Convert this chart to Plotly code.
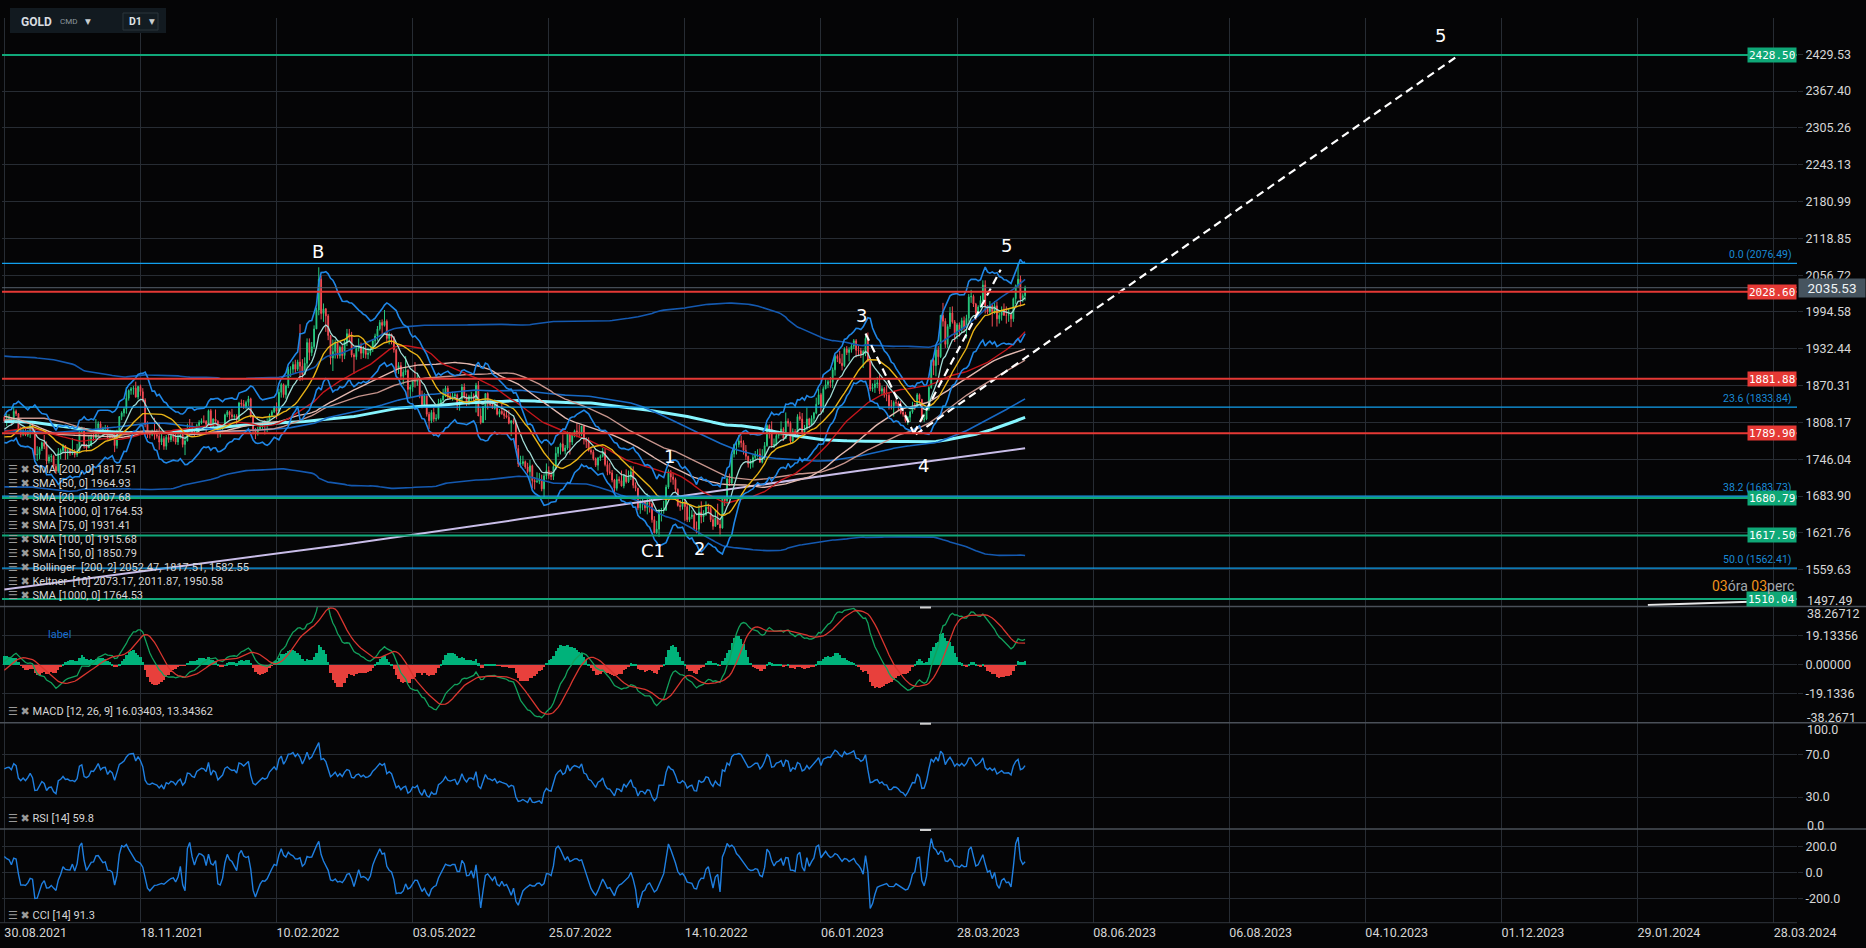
import numpy as np
import pandas as pd
import plotly.graph_objects as go

# ---------------- DATA ----------------
# daily closes before the visible window (warm-up for the long indicators)
hist_close = [
1888,1880,1871,1866,1871, 1837,1805,1811,1811,1788, 1777,1815,1831,1841,1839,
1863,1871,1838,1836,1839, 1828,1854,1862,1886,1881, 1872,1862,1871,1876,
1876,1878,1893,1898, 1943,1950,1918,1913,1849, 1844,1856,1846,1851,1828,
1840,1840,1871,1870,1855, 1856,1850,1844,1843,1863, 1861,1836,1835,1793,1814,
1831,1838,1843,1826,1824, 1819,1799,1776,1775,1784, 1808,1805,1797,1770,1734,
1723,1738,1712,1698,1700, 1683,1716,1727,1722,1719, 1731,1731,1745,1735,1745,
1738,1728,1734,1726,1732, 1712,1685,1708,1728, 1729,1744,1737,1755,1744,
1732,1746,1736,1764,1777, 1770,1779,1793,1783,1777, 1780,1777,1773,1768,1768,
1792,1779,1786,1815,1831, 1836,1836,1815,1826,1843, 1867,1869,1870,1876,1881,
1882,1898,1896,1896,1903, 1906,1903,1908,1871,1891, 1898,1893,1888,1898,1877,
1866,1859,1811,1774,1764, 1782,1778,1779,1776,1782, 1780,1761,1770,1776,1787,
1792,1797,1803,1803,1808, 1806,1808,1826,1829,1812, 1812,1810,1804,1806,1802,
1797,1799,1807,1829,1814, 1812,1810,1812,1805,1763, 1730,1730,1752,1753,1780,
1787,1787,1787,1781,1781, 1805,1803,1790,1792,1817]

# visible daily candles 30.08.2021 .. 09.05.2023
open_ = [
1817,1810,1814,1815,1810, 1827,1823,1795,1788,1794, 1787,1794,1804,1794,1753,
1754,1764,1774,1768,1743, 1750,1751,1734,1726,1757, 1761,1769,1760,1761,1756,
1757,1754,1760,1793,1797, 1768,1765,1769,1783,1782, 1792,1806,1792,1798,1799,
1783,1793,1788,1769,1792, 1818,1824,1831,1849,1862, 1865,1866,1851,1869,1860,
1846,1805,1790,1788,1792, 1788,1785,1775,1781,1768, 1783,1779,1785,1783,1775,
1783,1787,1771,1777,1799, 1798,1791,1789,1803, 1808,1811,1810,1805,
1828,1801,1814,1810,1790, 1797,1802,1821,1826,1821, 1818,1819,1813,1841,1839,
1835,1842,1848,1819,1796, 1791,1797,1801,1807,1804, 1807,1820,1826,1833,1827,
1859,1872,1855,1870,1898, 1898,1906,1898,1910,1903, 1889,1908,1943,1926,1936,
1966,1998,2050,1992,2000, 1988,1955,1917,1928,1942, 1921,1935,1921,1944,1958,
1954,1922,1919,1933,1937, 1925,1932,1923,1925,1931, 1946,1954,1966,1977,
1972,1979,1950,1957,1951, 1931,1898,1904,1886,1893, 1896,1864,1868,1881,1877,
1883,1854,1838,1853,1822, 1811,1825,1814,1815,1841, 1846,1853,1866,1853,1850,
1853,1855,1837,1848,1868, 1851,1841,1852,1853,1848, 1871,1819,1808,1835,1857,
1840,1838,1832,1838,1822, 1827,1823,1820,1817,1807, 1811,1808,1764,1738,1739,
1742,1733,1725,1735,1710, 1708,1709,1711,1696,1718, 1727,1719,1717,1734,1756,
1766,1772,1760,1765,1791, 1775,1788,1794,1792,1789, 1802,1779,1776,1761,1758,
1747,1736,1748,1751,1758, 1737,1725,1723,1711,1697, 1712,1710,1701,1718,1708,
1716,1725,1702,1697,1664, 1675,1675,1664,1673,1671, 1644,1622,1628,1660,1660,
1660,1699,1725,1716,1712, 1695,1668,1666,1673,1666, 1644,1649,1652,1629,1628,
1657,1649,1652,1665,1663, 1644,1633,1647,1636,1630, 1681,1676,1713,1706,1755,
1771,1771,1777,1774,1761, 1751,1738,1740,1749,1755, 1755,1741,1750,1769,1803,
1797,1769,1771,1786,1789, 1797,1781,1810,1807,1777, 1793,1788,1818,1814,1792,
1797,1814,1804,1815, 1824,1839,1855,1833, 1865,1872,1877,1876,1897,
1920,1916,1908,1904,1932, 1926,1931,1937,1946,1930, 1929,1923,1928,1950,1912,
1865,1867,1873,1875,1861, 1865,1854,1854,1836,1836, 1842,1841,1835,1825,1822,
1811,1817,1826,1836,1835, 1855,1847,1813,1814,1831, 1867,1913,1904,1931,1919,
1989,1979,1940,1970,1993, 1978,1956,1973,1964,1980, 1969,1984,2020,2021,
2008,1993,2003,2014,2040, 2004,1995,2005,1995,2005, 1983,1989,1998,1989,1989,
1990,1983,2017,2039,2050, 2017,2022]

high = [
1820,1823,1822,1816,1834, 1830,1824,1801,1800,1797, 1795,1808,1809,1796,1768,
1767,1776,1787,1776,1754, 1755,1753,1738,1765,1764, 1772,1770,1765,1764,1782,
1763,1772,1796,1801,1800, 1772,1785,1788,1789,1814, 1810,1810,1801,1804,1803,
1796,1794,1792,1796,1819, 1827,1834,1868,1864,1868, 1870,1877,1870,1872,1866,
1849,1810,1793,1796,1816, 1797,1808,1790,1785,1787, 1788,1792,1793,1789,1791,
1792,1791,1785,1806,1814, 1808,1796,1806,1812, 1815,1820,1812,1830,
1831,1815,1830,1812,1801, 1805,1823,1829,1828,1831, 1822,1822,1843,1847,1846,
1845,1853,1850,1820,1799, 1801,1807,1810,1812,1815, 1823,1829,1836,1842,1865,
1875,1874,1872,1902,1903, 1911,1914,1914,1974,1915, 1918,1950,1950,1944,1972,
2002,2070,2056,2009,2001, 1991,1956,1948,1948,1944, 1938,1940,1948,1966,1966,
1961,1925,1938,1950,1943, 1937,1945,1934,1935,1948, 1958,1971,1981,1982,
1998,1982,1960,1958,1954, 1932,1910,1910,1898,1920, 1898,1872,1882,1910,1892,
1885,1862,1858,1854,1826, 1829,1833,1822,1848,1849, 1865,1870,1870,1858,1860,
1859,1857,1849,1873,1874, 1857,1855,1860,1857,1875, 1878,1832,1836,1857,1859,
1846,1843,1847,1845,1831, 1840,1829,1829,1829,1812, 1815,1812,1770,1752,1752,
1744,1740,1745,1737,1716, 1724,1723,1720,1721,1739, 1734,1726,1740,1767,1767,
1774,1788,1770,1793,1792, 1790,1796,1807,1804,1802, 1802,1783,1783,1766,1762,
1749,1750,1754,1765,1764, 1744,1740,1728,1713,1721, 1717,1727,1721,1729,1727,
1735,1734,1707,1698,1678, 1679,1677,1688,1684,1673, 1650,1642,1662,1664,1676,
1703,1729,1728,1723,1715, 1697,1677,1680,1683,1671, 1668,1660,1656,1641,1669,
1675,1660,1675,1671,1666, 1652,1660,1671,1643,1682, 1683,1717,1722,1757,1772,
1775,1787,1786,1778,1770, 1752,1746,1754,1760,1763, 1764,1763,1775,1805,1805,
1810,1781,1790,1794,1810, 1800,1825,1815,1810,1798, 1797,1822,1826,1824,1804,
1833,1816,1820,1826, 1850,1865,1858,1869, 1881,1880,1885,1901,1922,
1923,1929,1924,1935,1937, 1935,1942,1949,1949,1938, 1934,1931,1955,1960,1918,
1874,1880,1885,1890,1870, 1868,1871,1858,1846,1845, 1847,1844,1845,1830,1826,
1819,1828,1843,1841,1858, 1857,1848,1823,1834,1870, 1914,1916,1937,1937,1989,
2010,1984,1974,2003,2004, 1981,1976,1977,1985,1987, 1990,2025,2032,2024,
2010,2006,2022,2048,2048, 2006,2013,2008,2013,2012, 1993,2004,2009,2004,2000,
1992,2019,2041,2076.49,2056, 2026,2039]

low = [
1808,1802,1808,1804,1807, 1819,1792,1783,1785,1785, 1784,1782,1790,1745,1743,
1746,1760,1763,1737,1739, 1741,1730,1721,1723,1746, 1757,1745,1746,1752,1753,
1749,1750,1758,1790,1764, 1759,1765,1768,1777,1779, 1785,1790,1785,1791,1779,
1780,1782,1758,1764,1782, 1812,1818,1823,1845,1855, 1855,1850,1847,1853,1843,
1800,1782,1781,1785,1779, 1781,1762,1770,1762,1762, 1774,1775,1776,1771,1770,
1781,1766,1753,1776,1794, 1788,1785,1787,1800, 1805,1807,1790,1803,
1798,1799,1808,1782,1783, 1791,1800,1817,1813,1813, 1813,1805,1811,1833,1831,
1831,1836,1816,1788,1780, 1786,1795,1797,1788,1792, 1805,1817,1824,1814,1820,
1850,1850,1848,1866,1885, 1891,1890,1895,1878,1879, 1889,1900,1913,1920,1932,
1966,1989,1982,1978,1961, 1947,1906,1895,1916,1916, 1916,1910,1915,1937,1944,
1918,1890,1914,1928,1915, 1917,1916,1915,1921,1927, 1936,1946,1963,1955,
1970,1944,1940,1940,1926, 1891,1890,1880,1872,1888, 1850,1851,1860,1867,1870,
1849,1832,1836,1818,1797, 1807,1809,1810,1813,1835, 1839,1851,1846,1847,1845,
1848,1829,1828,1843,1848, 1836,1837,1845,1841,1825, 1820,1805,1807,1812,1830,
1835,1831,1830,1820,1817, 1821,1814,1815,1805,1785, 1805,1763,1733,1732,1735,
1730,1722,1707,1697,1695, 1706,1704,1692,1680,1712, 1713,1711,1711,1728,1750,
1754,1759,1754,1762,1754, 1770,1783,1783,1782,1785, 1771,1765,1759,1754,1744,
1733,1727,1743,1749,1734, 1719,1720,1707,1688,1693, 1705,1700,1697,1705,1706,
1711,1697,1692,1660,1654, 1660,1658,1653,1656,1639, 1621,1620,1615,1641,1654,
1659,1696,1707,1703,1690, 1666,1659,1661,1642,1640, 1640,1645,1627,1621,1617,
1638,1640,1651,1655,1640, 1627,1632,1636,1616,1629, 1667,1670,1701,1703,1749,
1754,1766,1766,1754,1745, 1732,1730,1732,1746,1749, 1740,1739,1745,1767,1781,
1765,1765,1769,1781,1786, 1777,1780,1801,1773,1775, 1783,1784,1811,1786,1789,
1796,1798,1803,1808, 1822,1838,1825,1825, 1864,1866,1867,1866,1887,
1910,1907,1896,1902,1922, 1911,1926,1932,1918,1920, 1917,1900,1920,1910,1861,
1860,1858,1866,1856,1853, 1850,1844,1830,1830,1818, 1836,1828,1822,1818,1808,
1804,1809,1823,1829,1834, 1842,1810,1809,1812,1828, 1865,1888,1886,1905,1917,
1970,1934,1934,1966,1975, 1944,1949,1953,1961,1960, 1950,1978,2010,2003,
1981,1990,2001,2012,1992, 1991,1990,1970,1991,1970, 1975,1980,1988,1975,1978,
1969,1978,2008,2036,2004, 2011,2014]

close = [
1810,1814,1815,1810,1827, 1823,1795,1788,1794,1787, 1794,1804,1794,1753,1754,
1764,1774,1768,1743,1750, 1751,1734,1726,1757,1761, 1769,1760,1761,1756,1757,
1754,1760,1793,1797,1768, 1765,1769,1783,1782,1792, 1806,1792,1798,1799,1783,
1793,1788,1769,1792,1818, 1824,1831,1849,1862,1865, 1866,1851,1869,1860,1846,
1805,1790,1788,1792,1788, 1785,1775,1781,1768,1783, 1779,1785,1783,1775,1783,
1787,1771,1777,1799,1798, 1791,1789,1803,1808, 1811,1810,1805,1828,
1801,1814,1810,1790,1797, 1802,1821,1826,1821,1818, 1819,1813,1841,1839,1835,
1842,1848,1819,1796,1791, 1797,1801,1807,1804,1807, 1820,1826,1833,1827,1859,
1872,1855,1870,1898,1898, 1906,1898,1910,1903,1889, 1908,1943,1926,1936,1966,
1998,2050,1992,2000,1988, 1955,1917,1928,1942,1921, 1935,1921,1944,1958,1954,
1922,1919,1933,1937,1925, 1932,1923,1925,1931,1946, 1954,1966,1977,1972,
1979,1950,1957,1951,1931, 1898,1904,1886,1893,1896, 1864,1868,1881,1877,1883,
1854,1838,1853,1822,1811, 1825,1814,1815,1841,1846, 1853,1866,1853,1850,1853,
1855,1837,1848,1868,1851, 1841,1852,1853,1848,1871, 1819,1808,1835,1857,1840,
1838,1832,1838,1822,1827, 1823,1820,1817,1807,1811, 1808,1764,1738,1739,1742,
1733,1725,1735,1710,1708, 1709,1711,1696,1718,1727, 1719,1717,1734,1756,1766,
1772,1760,1765,1791,1775, 1788,1794,1792,1789,1802, 1779,1776,1761,1758,1747,
1736,1748,1751,1758,1737, 1725,1723,1711,1697,1712, 1710,1701,1718,1708,1716,
1725,1702,1697,1664,1675, 1675,1664,1673,1671,1644, 1622,1628,1660,1660,1660,
1699,1725,1716,1712,1695, 1668,1666,1673,1666,1644, 1649,1652,1629,1628,1657,
1649,1652,1665,1663,1644, 1633,1647,1636,1630,1681, 1676,1713,1706,1755,1771,
1771,1777,1774,1761,1751, 1738,1740,1749,1755,1755, 1741,1750,1769,1803,1797,
1769,1771,1786,1789,1797, 1781,1810,1807,1777,1793, 1788,1818,1814,1792,1797,
1814,1804,1815,1824, 1839,1855,1833,1865, 1872,1877,1876,1897,1920,
1916,1908,1904,1932,1926, 1931,1937,1946,1930,1929, 1923,1928,1950,1912,1865,
1867,1873,1875,1861,1865, 1854,1854,1836,1836,1842, 1841,1835,1825,1822,1811,
1817,1826,1836,1835,1855, 1847,1813,1814,1831,1867, 1913,1904,1931,1919,1989,
1979,1940,1970,1993,1978, 1956,1973,1964,1980,1969, 1984,2020,2021,2008,
1993,2003,2014,2040,2004, 1995,2005,1995,2005,1983, 1989,1998,1989,1989,1990,
1983,2017,2039,2050,2017, 2022,2035.53]

# SMA 1000 (bar index, value)
sma1000_idx = [0, 72, 143, 220, 297, 365, 435]
sma1000_val = [1526, 1564, 1601, 1645, 1688, 1727, 1764.5]

# axis tick labels
date_labels = ["30.08.2021", "18.11.2021", "10.02.2022", "03.05.2022", "25.07.2022",
               "14.10.2022", "06.01.2023", "28.03.2023", "08.06.2023", "06.08.2023",
               "04.10.2023", "01.12.2023", "29.01.2024", "28.03.2024"]
bars_per_label = 58
price_labels = ["1559.63", "1621.76", "1683.90", "1746.04", "1808.17", "1870.31", "1932.44",
                "1994.58", "2056.72", "2118.85", "2180.99", "2243.13", "2305.26", "2367.40", "2429.53"]
price_floor_label = "1497.49"
price_top = 2490.8
macd_labels = ["-19.1336", "0.00000", "19.13356"]
macd_edge_labels = ["38.26712", "-38.2671"]
macd_limit = 38.26712
rsi_labels = ["30.0", "70.0"]
rsi_edge_labels = ["100.0", "0.0"]
cci_labels = ["-200.0", "0.0", "200.0"]
cci_range = [-385, 336]

# horizontal levels
green_levels = [2428.50, 1680.79, 1617.50, 1510.04]
red_levels = [2028.60, 1881.88, 1789.90]
fib_names = ["0.0", "23.6", "38.2", "50.0"]
fib_levels = [2076.49, 1833.84, 1683.73, 1562.41]
last_price = 2035.53

# wave markup (bar index, price)
wave_text = ["B", "5", "3", "4", "1", "C1", "2", "5"]
wave_x = [133.5, 427.2, 365.3, 391.9, 283.6, 276.5, 296.4, 612.2]
wave_y = [2096.4, 2107.6, 1989.5, 1736.3, 1750.3, 1592.8, 1595.7, 2460.9]
dash1_x, dash1_y = [367, 387.6], [1958.4, 1789.7]
dash2_x, dash2_y = [387.6, 424.6], [1789.7, 2066]
trend_x, trend_y = [388.4, 620], [1788, 2428.5]
sliver_x, sliver_y = [700.4, 743.9], [1500, 1505.5]

legend_main = ["SMA [200, 0] 1817.51", "SMA [50, 0] 1964.93", "SMA [20, 0] 2007.68",
               "SMA [1000, 0] 1764.53", "SMA [75, 0] 1931.41", "SMA [100, 0] 1915.68",
               "SMA [150, 0] 1850.79", "Bollinger  [200, 2] 2052.47, 1817.51, 1582.55",
               "Keltner  [10] 2073.17, 2011.87, 1950.58", "SMA [1000, 0] 1764.53"]
macd_title = "MACD [12, 26, 9] 16.03403, 13.34362"
rsi_title = "RSI [14] 59.8"
cci_title = "CCI [14] 91.3"

# ---------------- INDICATORS ----------------
n = min(len(open_), len(high), len(low), len(close))
o_v = pd.Series(open_[:n], dtype=float)
h_v = pd.Series(high[:n], dtype=float)
l_v = pd.Series(low[:n], dtype=float)
c_v = pd.Series(close[:n], dtype=float)
hc = pd.Series(hist_close, dtype=float)
nh = len(hc)
c_all = pd.concat([hc, c_v], ignore_index=True)
h_all = pd.concat([hc, h_v], ignore_index=True)
l_all = pd.concat([hc, l_v], ignore_index=True)

def sma(p):
    return c_all.rolling(p, min_periods=1).mean().iloc[nh:].to_numpy()

sma20, sma50, sma75, sma100, sma150, sma200 = (sma(p) for p in (20, 50, 75, 100, 150, 200))
std200 = c_all.rolling(200, min_periods=1).std(ddof=0).iloc[nh:].to_numpy()
bb_up, bb_lo = sma200 + 2 * std200, sma200 - 2 * std200
ema10 = c_all.ewm(span=10, adjust=False).mean()
prev_c = c_all.shift(1)
tr = pd.concat([h_all - l_all, (h_all - prev_c).abs(), (l_all - prev_c).abs()], axis=1).max(axis=1)
atr10 = tr.ewm(span=10, adjust=False).mean()
kc_mid = ema10.iloc[nh:].to_numpy()
kc_up = (ema10 + 2 * atr10).iloc[nh:].to_numpy()
kc_lo = (ema10 - 2 * atr10).iloc[nh:].to_numpy()
macd = c_all.ewm(span=12, adjust=False).mean() - c_all.ewm(span=26, adjust=False).mean()
signal = macd.rolling(9, min_periods=1).mean()
mhist = (macd - signal).iloc[nh:].to_numpy()
macd_v = macd.iloc[nh:].to_numpy()
signal_v = signal.iloc[nh:].to_numpy()
delta = c_all.diff()
gain = delta.clip(lower=0).ewm(alpha=1 / 14, adjust=False).mean()
loss = (-delta.clip(upper=0)).ewm(alpha=1 / 14, adjust=False).mean()
rsi = (100 - 100 / (1 + gain / loss)).iloc[nh:].to_numpy()
tp = (h_all + l_all + c_all) / 3
tp_ma = tp.rolling(14).mean()
md = tp.rolling(14).apply(lambda a: np.mean(np.abs(a - a.mean())), raw=True)
cci = ((tp - tp_ma) / (0.015 * md)).iloc[nh:].to_numpy()
xi = np.arange(n)

# ---------------- GEOMETRY / STYLE ----------------
W, H = 1866, 948
ML, MR, MT, MB = 2, 69, 18, 25
PW, PH = W - ML - MR, H - MT - MB

def fx(p):
    return (p - ML) / PW

def fy(p):
    return 1 - (p - MT) / PH

B_MAIN, B_MACD, B_RSI = fy(606.5), fy(722.7), fy(829)
BG = "#050506"
GRID = "#272c33"
TXT = "#d6d6d6"
FONT = "Roboto, DejaVu Sans, sans-serif"
MONO = "DejaVu Sans Mono, monospace"
GREEN_LV, RED_LV, FIB = "#10a779", "#e53935", "#12a0ee"

fig = go.Figure()

fig.add_trace(go.Candlestick(
    x=xi, open=o_v, high=h_v, low=l_v, close=c_v,
    increasing=dict(line=dict(color="#27c97f", width=1), fillcolor="#27c97f"),
    decreasing=dict(line=dict(color="#f24b53", width=1), fillcolor="#f24b53"),
    whiskerwidth=0, hoverinfo="skip", xaxis="x", yaxis="y"))

def line(x, y, color, width, dash=None, ax=("x", "y")):
    fig.add_trace(go.Scatter(x=x, y=y, mode="lines", hoverinfo="skip",
                             line=dict(color=color, width=width, dash=dash),
                             xaxis=ax[0], yaxis=ax[1]))

line(xi, bb_up, "#1459b0", 1.6)
line(xi, bb_lo, "#1459b0", 1.6)
line(sma1000_idx, sma1000_val, "#c9bde8", 2)
line(xi, sma200, "#86f5ff", 3)
line(xi, sma150, "#1769c4", 1.6)
line(xi, sma100, "#c7958d", 1.4)
line(xi, sma75, "#e2b9b0", 1.4)
line(xi, sma50, "#c4161c", 1.4)
line(xi, kc_up, "#1f86e6", 1.6)
line(xi, kc_lo, "#1f86e6", 1.6)
line(xi, kc_mid, "#a3dcd6", 1.3)
line(xi, sma20, "#e9b417", 1.4)
line(dash1_x, dash1_y, "#ffffff", 2.2, "8px,5px")
line(dash2_x, dash2_y, "#ffffff", 2.2, "8px,5px")
line(trend_x, trend_y, "#ffffff", 2.2, "8px,5px")
line(sliver_x, sliver_y, "#e8e8e8", 2)

fig.add_trace(go.Bar(x=xi, y=mhist, width=1.0, hoverinfo="skip",
                     marker=dict(color=["#00b27a" if v >= 0 else "#e8403c" for v in mhist],
                                 line=dict(width=0)),
                     xaxis="x2", yaxis="y2"))
line(xi, macd_v, "#12a05c", 1.3, ax=("x2", "y2"))
line(xi, signal_v, "#d8362f", 1.3, ax=("x2", "y2"))
line(xi, rsi, "#1f7fe0", 1.4, ax=("x3", "y3"))
line(xi, cci, "#1f7fe0", 1.4, ax=("x4", "y4"))

# ---------------- AXES ----------------
tick_x = [i * bars_per_label for i in range(len(date_labels))]
xcommon = dict(range=[-1, (PW / 136.1) * bars_per_label - 1], tickvals=tick_x, ticktext=date_labels,
               showgrid=True, gridcolor=GRID, gridwidth=1, zeroline=False, showline=False,
               ticks="", fixedrange=True)
ycommon = dict(side="right", showgrid=True, gridcolor=GRID, gridwidth=1, zeroline=False,
               showline=False, ticks="outside", ticklen=5, tickcolor=GRID, fixedrange=True,
               tickfont=dict(family=FONT, size=12.5, color=TXT))

layout = dict(
    width=W, height=H, paper_bgcolor=BG, plot_bgcolor=BG, showlegend=False,
    margin=dict(l=ML, r=MR, t=MT, b=MB), boxgap=0.5, bargap=0,
    xaxis=dict(xcommon, anchor="y", showticklabels=False, rangeslider=dict(visible=False)),
    xaxis2=dict(xcommon, anchor="y2", matches="x", showticklabels=False),
    xaxis3=dict(xcommon, anchor="y3", matches="x", showticklabels=False),
    xaxis4=dict(xcommon, anchor="y4", matches="x", showticklabels=True,
                ticklabelposition="outside right",
                tickfont=dict(family=FONT, size=12.5, color=TXT)),
    yaxis=dict(ycommon, domain=[B_MAIN, 1], anchor="x", range=[float(price_floor_label), price_top],
               tickvals=[float(s) for s in price_labels], ticktext=price_labels),
    yaxis2=dict(ycommon, domain=[B_MACD, B_MAIN], anchor="x2", range=[-macd_limit, macd_limit],
                tickvals=[float(s) for s in macd_labels], ticktext=macd_labels),
    yaxis3=dict(ycommon, domain=[B_RSI, B_MACD], anchor="x3", range=[0, 100],
                tickvals=[float(s) for s in rsi_labels], ticktext=rsi_labels),
    yaxis4=dict(ycommon, domain=[0, B_RSI], anchor="x4", range=cci_range,
                tickvals=[float(s) for s in cci_labels], ticktext=cci_labels),
)
fig.update_layout(**layout)

shapes = []
ann = []

for v in green_levels:
    shapes.append(dict(type="line", xref="paper", yref="y", x0=0, x1=1, y0=v, y1=v,
                       line=dict(color=GREEN_LV, width=2)))
for v in red_levels:
    shapes.append(dict(type="line", xref="paper", yref="y", x0=0, x1=1, y0=v, y1=v,
                       line=dict(color=RED_LV, width=2)))
for v in fib_levels:
    shapes.append(dict(type="line", xref="paper", yref="y", x0=0, x1=1, y0=v, y1=v,
                       line=dict(color=FIB, width=1.2)))
shapes.append(dict(type="line", xref="paper", yref="y", x0=0, x1=1, y0=last_price, y1=last_price,
                   line=dict(color="#56616c", width=1)))

for v, col in [(g, "#0fa877") for g in green_levels] + [(r, "#e53935") for r in red_levels]:
    ann.append(dict(xref="paper", yref="y", x=1, y=v, xanchor="right", yanchor="middle",
                    text=f"{v:.2f}", showarrow=False, bgcolor=col, borderpad=1, height=12,
                    font=dict(family=MONO, size=11, color="#ffffff")))
for nm, v in zip(fib_names, fib_levels):
    ann.append(dict(xref="paper", yref="y", x=1, y=v, xanchor="right", yanchor="middle",
                    xshift=-3, yshift=9, text=f"{nm} ({v:.2f})", showarrow=False,
                    font=dict(family=FONT, size=10.5, color="#1a8ad6")))
ann.append(dict(xref="paper", yref="y", x=1, y=last_price, xanchor="left", yanchor="middle",
                xshift=1, text=f"{last_price:.2f}", showarrow=False, bgcolor="#46545f",
                borderpad=1, width=64, height=16, align="center",
                font=dict(family=FONT, size=13.5, color="#eef2f4")))

edge = [("y", float(price_floor_label), price_floor_label, 6),
        ("y2", macd_limit, macd_edge_labels[0], -6.5),
        ("y2", -macd_limit, macd_edge_labels[1], 5),
        ("y3", 100, rsi_edge_labels[0], -7),
        ("y3", 0, rsi_edge_labels[1], 4)]
for yr, v, t, s in edge:
    ann.append(dict(xref="paper", yref=yr, x=1, y=v, xanchor="left", yanchor="middle",
                    xshift=8, yshift=s, text=t, showarrow=False,
                    font=dict(family=FONT, size=12.5, color=TXT)))

for t, x, y in zip(wave_text, wave_x, wave_y):
    ann.append(dict(xref="x", yref="y", x=x, y=y, text=t, showarrow=False,
                    font=dict(family="DejaVu Sans", size=18, color="#ffffff")))

ICON = "<span style='color:#9a9a9a'>☰ ✖</span> "
for k, t in enumerate(legend_main):
    ann.append(dict(xref="paper", yref="paper", x=fx(6), y=fy(469.3 + 14 * k), xanchor="left",
                    yanchor="middle", text=ICON + t, showarrow=False,
                    font=dict(family=FONT, size=11, color="#d6d6d6")))
for t, yy in [(macd_title, 711.3), (rsi_title, 818.3), (cci_title, 915.3)]:
    ann.append(dict(xref="paper", yref="paper", x=fx(6), y=fy(yy), xanchor="left",
                    yanchor="middle", text=ICON + t, showarrow=False,
                    font=dict(family=FONT, size=11, color="#d6d6d6")))
ann.append(dict(xref="paper", yref="paper", x=fx(46), y=fy(634), xanchor="left", yanchor="middle",
                text="label", showarrow=False, font=dict(family=FONT, size=11, color="#1a6fd0")))

ann.append(dict(xref="paper", yref="paper", x=fx(1796), y=fy(586), xanchor="right", yanchor="middle",
                text="<span style='color:#f0921c'>03</span>óra <span style='color:#f0921c'>03</span>perc",
                showarrow=False, font=dict(family=FONT, size=14, color="#a2a8ac")))

for yy in (606.5, 722.7, 829):
    shapes.append(dict(type="line", xref="paper", yref="paper", x0=fx(0), x1=fx(W), y0=fy(yy), y1=fy(yy),
                       line=dict(color="#4a5058", width=1.5)))
    shapes.append(dict(type="line", xref="paper", yref="paper", x0=fx(920), x1=fx(931),
                       y0=fy(yy + 1), y1=fy(yy + 1), line=dict(color="#d0d0d0", width=2)))
shapes.append(dict(type="line", xref="paper", yref="paper", x0=fx(0), x1=fx(1797), y0=fy(922.7),
                   y1=fy(922.7), line=dict(color="#30353c", width=1)))

shapes.append(dict(type="rect", xref="paper", yref="paper", x0=fx(10), x1=fx(166), y0=fy(33), y1=fy(8),
                   fillcolor="#121a20", line=dict(width=0), layer="above"))
shapes.append(dict(type="rect", xref="paper", yref="paper", x0=fx(123), x1=fx(158), y0=fy(30), y1=fy(13),
                   fillcolor="#131c22", line=dict(color="#2b353b", width=1), layer="above"))
for t, xx, sz, col in [("<b>GOLD</b>", 19, 12, "#d9dde0"), ("CMD", 58, 8, "#8d979e"),
                       ("▼", 83, 7.5, "#c9ced2"), ("<b>D1</b>", 127, 10.5, "#dfe3e6"),
                       ("▼", 147, 7.5, "#c9ced2")]:
    ann.append(dict(xref="paper", yref="paper", x=fx(xx), y=fy(22), xanchor="left", yanchor="middle",
                    text=t, showarrow=False, font=dict(family=FONT, size=sz, color=col)))

fig.update_layout(shapes=shapes, annotations=ann)
fig.write_html("out.html", config={"displayModeBar": False},
               post_script="document.body.style.margin='0';document.body.style.padding='0';"
                           "document.body.style.overflow='hidden';"
                           "document.body.style.background='#050506';")
